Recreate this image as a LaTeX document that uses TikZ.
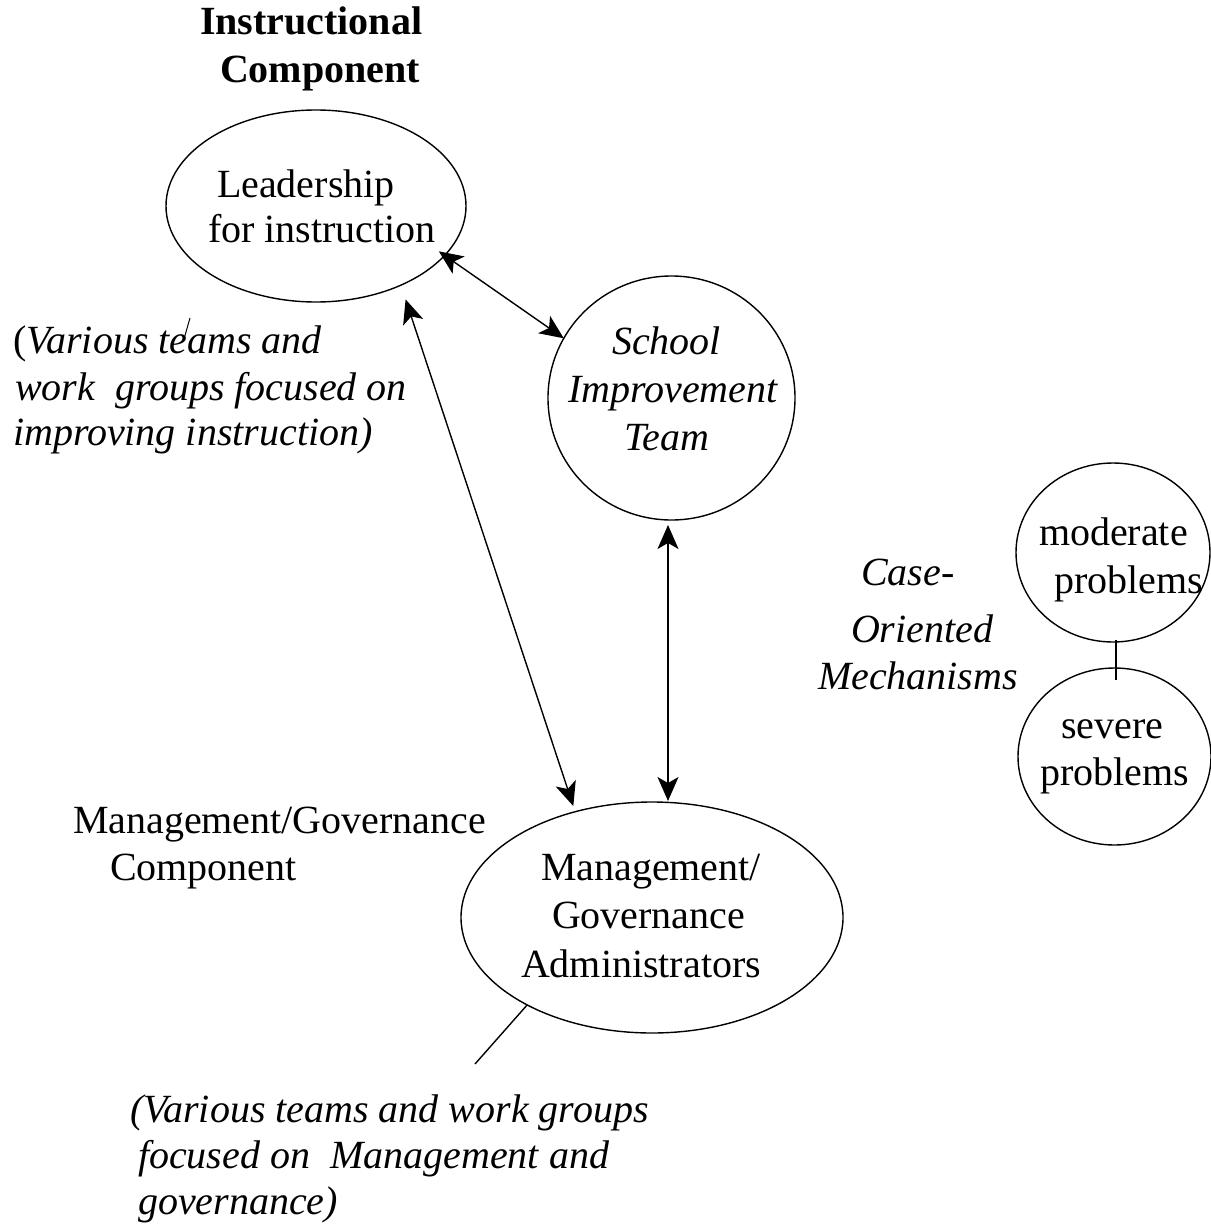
\documentclass[tikz,border=0pt]{standalone}
\usepackage{fontspec}
\setmainfont{Liberation Serif}
\usetikzlibrary{shapes.geometric,arrows.meta}
\begin{document}
\begin{tikzpicture}[x=1pt,y=-1pt,
  oval/.style={draw,ellipse,line width=1.4pt,inner sep=0pt,outer sep=0pt},
  txt/.style={anchor=base west,inner sep=0pt,outer sep=0pt,font=\fontsize{40}{46}\selectfont},
  itx/.style={txt,font=\fontsize{40}{46}\selectfont\itshape},
  btx/.style={txt,font=\fontsize{40}{46}\selectfont\bfseries},
  link/.style={line width=1.4pt},
  tip/.style={Stealth[length=24pt,width=21pt,inset=6pt]},
  dbl/.style={link,{Stealth[length=24pt,width=21pt,inset=6pt]}-{Stealth[length=24pt,width=21pt,inset=6pt]}}
]
\useasboundingbox (0,0) rectangle (1210,1228);

% shapes
\node[oval,minimum width=300pt,minimum height=192pt] (lead) at (316,206) {};
\node[oval,minimum width=247pt,minimum height=244pt] (sit) at (671.5,398) {};
\node[oval,minimum width=382pt,minimum height=231pt] (mgmt) at (652,917.5) {};
\node[oval,minimum width=194pt,minimum height=179pt] (mod) at (1113,552.5) {};
\node[oval,minimum width=193pt,minimum height=177pt] (sev) at (1114.5,756.5) {};

% title
\node[btx] (t1) at (200,35) {Instructional};
\node[btx] (t2) at (220,83) {Component};

% leadership text
\node[txt] (l1) at (217,197) {Leadership};
\node[txt] (l2) at (208,242) {for instruction};

% school improvement team
\node[itx] (s1) at (612,354) {School};
\node[itx] (s2) at (568,402) {Improvement};
\node[itx] (s3) at (624,450) {Team};

% case-oriented
\node[itx] (c1) at (861,585) {Case-};
\node[itx] (c2) at (851,642) {Oriented};
\node[itx] (c3) at (818,689) {Mechanisms};

% moderate / severe
\node[txt] (m1) at (1039,545) {moderate};
\node[txt] (m2) at (1054,593) {problems};
\node[txt] (v1) at (1061,738) {severe};
\node[txt] (v2) at (1040,785) {problems};

% management ellipse text
\node[txt] (a1) at (541,880) {Management/};
\node[txt] (a2) at (552,928) {Governance};
\node[txt] (a3) at (521,977) {Administrators};

% management/governance component
\node[txt] (g1) at (73,833) {Management/Governance};
\node[txt] (g2) at (110,880) {Component};

% left italic text
\node[txt] (w1) at (13,353) {(\textit{Various teams and}};
\node[itx] (w2) at (15,400) {work\ \ groups focused on};
\node[itx] (w3) at (13,445) {improving instruction)};

% bottom italic text
\node[itx] (b1) at (130,1122) {(Various teams and work groups};
\node[itx] (b2) at (138,1168) {focused on\ \ Management and};
\node[itx] (b3) at (138,1214) {governance)};

% connectors
\draw[dbl,shorten <=-7pt] (lead.-21) -- (sit.151);
\draw[dbl,shorten <=15pt,shorten >=6pt] (lead.-43) -- (mgmt.126);
\coordinate (sitb) at ([xshift=-3.5pt]sit.south);
\draw[dbl,shorten <=5pt,shorten >=1pt] (sitb) -- (sitb |- mgmt.north);
\draw[link] ([xshift=3pt,yshift=2pt]mod.south) -- ([xshift=1.5pt,yshift=-12pt]sev.north);
\coordinate (tail) at (475,1064);
\draw[link] (mgmt.215) -- (tail);
\coordinate (tk1) at (190,318);
\coordinate (tk2) at (184,339);
\draw[line width=1pt] (tk1) -- (tk2);
\end{tikzpicture}
\end{document}
